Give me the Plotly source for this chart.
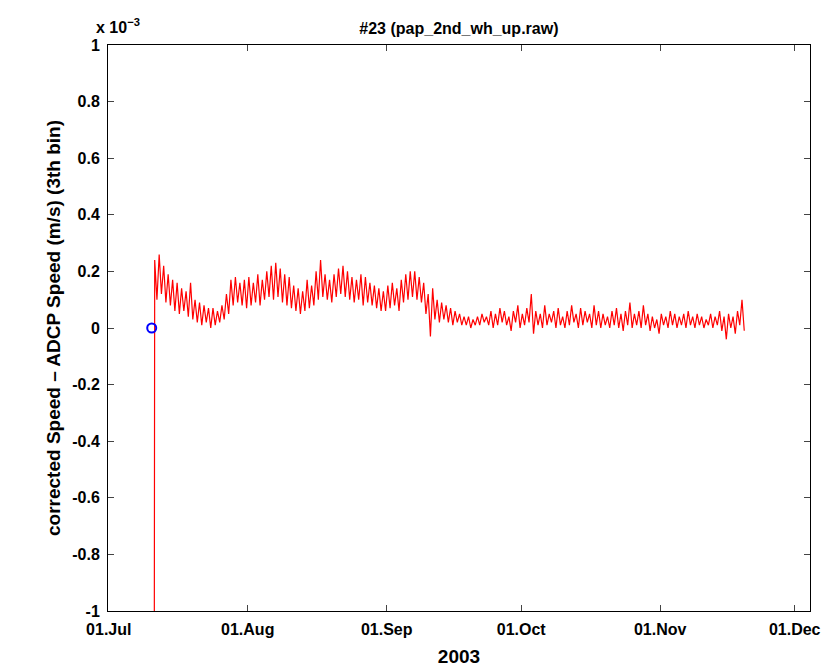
import pandas as pd
import plotly.graph_objects as go

# daily high / low of the speed difference (units of 1e-3 m/s), 11 Jul .. 19 Nov 2003
start_day = "2003-07-11"
day_hi = [0.24, 0.26, 0.22, 0.19, 0.17, 0.16, 0.14, 0.13, 0.16, 0.10,
          0.09, 0.08, 0.07, 0.07, 0.06, 0.08, 0.12, 0.17, 0.18, 0.16, 0.17,
          0.18, 0.16, 0.19, 0.17, 0.20, 0.22, 0.23, 0.21, 0.19, 0.18,
          0.15, 0.14, 0.13, 0.17, 0.15, 0.20, 0.24, 0.19, 0.17, 0.19,
          0.21, 0.22, 0.20, 0.18, 0.17, 0.19, 0.18, 0.16, 0.15, 0.14,
          0.13, 0.15, 0.16, 0.14, 0.17, 0.19, 0.20, 0.20, 0.18, 0.16,
          0.12, 0.14, 0.10, 0.09, 0.08, 0.07, 0.06, 0.05, 0.04, 0.04,
          0.03, 0.04, 0.05, 0.04, 0.06, 0.05, 0.07, 0.06, 0.04, 0.06,
          0.08, 0.05, 0.07, 0.12, 0.06, 0.05, 0.08, 0.05, 0.06, 0.07,
          0.04, 0.06, 0.08, 0.05, 0.07, 0.06, 0.05, 0.08, 0.06, 0.05,
          0.04, 0.06, 0.07, 0.05, 0.06, 0.09, 0.05, 0.06, 0.08, 0.05,
          0.04, 0.03, 0.05, 0.04, 0.06, 0.05, 0.04, 0.05, 0.06, 0.04,
          0.05, 0.04, 0.03, 0.05, 0.04, 0.06, 0.04, 0.05, 0.04, 0.06, 0.10]
day_lo = [0.10, 0.12, 0.09, 0.08, 0.06, 0.05, 0.06, 0.04, 0.03, 0.02,
          0.01, 0.02, 0.00, 0.01, 0.02, 0.03, 0.05, 0.08, 0.09, 0.08, 0.07,
          0.08, 0.09, 0.08, 0.10, 0.11, 0.10, 0.11, 0.09, 0.08, 0.07,
          0.06, 0.05, 0.06, 0.07, 0.08, 0.10, 0.11, 0.10, 0.09, 0.11,
          0.12, 0.11, 0.10, 0.09, 0.10, 0.08, 0.09, 0.08, 0.07, 0.06,
          0.06, 0.07, 0.08, 0.06, 0.09, 0.10, 0.11, 0.10, 0.09, 0.05,
          -0.03, 0.03, 0.02, 0.03, 0.02, 0.01, 0.02, 0.01, 0.01, 0.00,
          0.01, 0.01, 0.02, 0.01, 0.00, 0.01, 0.02, 0.01, -0.01, 0.02,
          0.00, 0.01, 0.02, -0.02, 0.01, 0.00, 0.01, 0.02, 0.00, 0.01,
          0.00, 0.01, 0.02, 0.00, 0.01, 0.02, 0.00, 0.01, 0.00, 0.01,
          0.00, 0.01, 0.00, -0.01, 0.01, 0.00, 0.01, 0.00, 0.01, -0.01,
          0.00, -0.02, 0.01, 0.00, 0.01, 0.00, 0.01, 0.00, 0.01, 0.00,
          0.01, 0.00, 0.01, 0.00, 0.01, -0.01, -0.04, 0.00, -0.02, 0.01, -0.01]
first_value = -1.0
marker_time = "2003-07-10 14:00"
marker_value = 0.0

n = min(len(day_hi), len(day_lo))
days = pd.date_range(start_day, periods=n, freq="D")
times = [pd.Timestamp(start_day) + pd.Timedelta(hours=4)]
vals = [first_value]
for d, hi, lo in zip(days, day_hi[:n], day_lo[:n]):
    times += [d + pd.Timedelta(hours=6), d + pd.Timedelta(hours=18)]
    vals += [hi, lo]

yticks = [-1, -0.8, -0.6, -0.4, -0.2, 0, 0.2, 0.4, 0.6, 0.8, 1]

fig = go.Figure()
fig.add_trace(go.Scatter(x=times, y=vals, mode="lines",
                         line=dict(color="red", width=1.2), showlegend=False))
fig.add_trace(go.Scatter(x=[marker_time], y=[marker_value], mode="markers",
                         marker=dict(color="rgba(0,0,0,0)", size=9,
                                     line=dict(color="blue", width=2)),
                         showlegend=False))

font = dict(family="Liberation Sans", size=16, color="black")
fig.update_layout(
    width=835, height=672, plot_bgcolor="white", paper_bgcolor="white",
    margin=dict(l=100, r=33, t=37, b=69),
    font=font,
    title=dict(text="<b>#23 (pap_2nd_wh_up.raw)</b>", x=0.54, y=0.97,
               xanchor="center", yanchor="middle", font=dict(size=16)),
)
fig.update_xaxes(range=["2003-06-30 20:00", "2003-12-04 10:00"],
                 tickvals=["2003-07-01", "2003-08-01", "2003-09-01",
                           "2003-10-01", "2003-11-01", "2003-12-01"],
                 ticktext=["<b>01.Jul</b>", "<b>01.Aug</b>", "<b>01.Sep</b>",
                           "<b>01.Oct</b>", "<b>01.Nov</b>", "<b>01.Dec</b>"],
                 ticks="inside", ticklen=6, showline=True, linecolor="black",
                 mirror="ticks", showgrid=False, zeroline=False, automargin=False,
                 ticklabelstandoff=4,
                 title=dict(text="<b>2003</b>", standoff=12))
fig.update_yaxes(range=[-1, 1], tickvals=yticks,
                 ticktext=["<b>%g</b>" % v for v in yticks],
                 ticks="inside", ticklen=6, showline=True, linecolor="black",
                 mirror="ticks", showgrid=False, zeroline=False, automargin=False,
                 ticklabelstandoff=4,
                 title=dict(text="<b>corrected Speed \u2013 ADCP Speed (m/s) (3th bin)</b>", standoff=6))
fig.add_annotation(text="<b>x 10<sup>\u22123</sup></b>", xref="paper", yref="paper",
                   x=-0.02, y=1.012, xanchor="left", yanchor="bottom",
                   showarrow=False, font=dict(size=16))

fig.write_html("out.html")
